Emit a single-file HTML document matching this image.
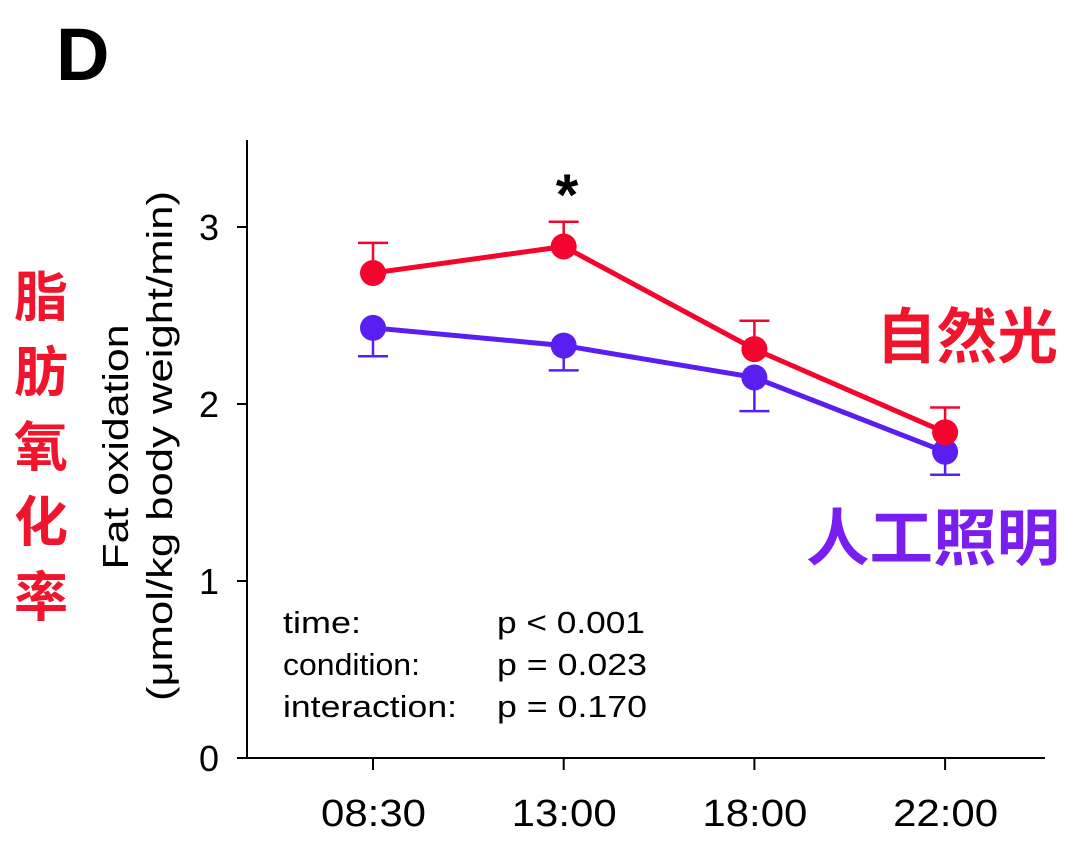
<!DOCTYPE html>
<html><head><meta charset="utf-8"><style>
body{margin:0;background:#fff;width:1080px;height:850px;overflow:hidden}
svg{display:block}
text{font-family:"Liberation Sans","Noto Sans CJK SC",sans-serif}
</style></head><body>
<svg id="chart" width="1080" height="850">
<text x="56" y="80" font-size="74" font-weight="bold" fill="#000">D</text>
<g id="axes"></g>
<g id="series"></g>
<text x="567" y="215" font-size="58" font-weight="bold" text-anchor="middle" fill="#000">*</text>
<text transform="translate(128,447) rotate(-90)" font-size="36" text-anchor="middle" textLength="245" lengthAdjust="spacingAndGlyphs" fill="#000">Fat oxidation</text>
<text transform="translate(172,446) rotate(-90)" font-size="36" text-anchor="middle" textLength="510" lengthAdjust="spacingAndGlyphs" fill="#000">(μmol/kg body weight/min)</text>
<g font-size="54" font-weight="bold" fill="#f0142d" font-family="'Noto Serif CJK SC',serif">
<text x="14" y="316">脂</text>
<text x="14" y="391">肪</text>
<text x="14" y="466">氧</text>
<text x="14" y="541">化</text>
<text x="14" y="616">率</text>
</g>
<text x="876" y="358" font-size="60" font-weight="bold" fill="#f0142d" font-family="'Noto Serif CJK SC',serif" textLength="182" lengthAdjust="spacingAndGlyphs">自然光</text>
<text x="806" y="560" font-size="62" font-weight="bold" fill="#7a1ef0" font-family="'Noto Serif CJK SC',serif" textLength="254" lengthAdjust="spacingAndGlyphs">人工照明</text>
<g font-size="31" fill="#000">
<text x="283" y="633" textLength="78" lengthAdjust="spacingAndGlyphs">time:</text><text x="497" y="633" textLength="148" lengthAdjust="spacingAndGlyphs">p &lt; 0.001</text>
<text x="283" y="675" textLength="137" lengthAdjust="spacingAndGlyphs">condition:</text><text x="497" y="675" textLength="150" lengthAdjust="spacingAndGlyphs">p = 0.023</text>
<text x="283" y="717" textLength="174" lengthAdjust="spacingAndGlyphs">interaction:</text><text x="497" y="717" textLength="150" lengthAdjust="spacingAndGlyphs">p = 0.170</text>
</g>
</svg>
<script>
const categories=["08:30","13:00","18:00","22:00"];
const naturalValues=[2.74,2.89,2.31,1.84];
const naturalErr=[0.17,0.14,0.16,0.14];
const artificialValues=[2.43,2.33,2.15,1.73];
const artificialErr=[0.16,0.14,0.19,0.13];
const yTicks=[0,1,2,3];
const NS="http://www.w3.org/2000/svg";
const x0=247,x1=1045,yBase=758;
function xs(i){return 373+i*190.7;}
function ys(v){return yBase-v*177;}
function mk(tag,attrs,parent){const e=document.createElementNS(NS,tag);for(const k in attrs)e.setAttribute(k,attrs[k]);parent.appendChild(e);return e;}
const ax=document.getElementById('axes');
let l=mk('line',{x1:x0,y1:140,x2:x0,y2:yBase+1,stroke:'#000','stroke-width':2},ax);


l=mk('line',{x1:x0-1,y1:yBase,x2:x1,y2:yBase,stroke:'#000','stroke-width':2},ax);


yTicks.forEach(t=>{
  const y=ys(t);
  let tk=mk('line',{x1:x0-10,y1:y,x2:x0,y2:y,stroke:'#000','stroke-width':2},ax);
  
  
  let tx=mk('text',{x:x0-28,y:y+13,'font-size':36,'text-anchor':'end'},ax);
  tx.textContent=t;
  
  
});
categories.forEach((c,i)=>{
  const x=xs(i);
  let tk=mk('line',{x1:x,y1:yBase,x2:x,y2:yBase+12,stroke:'#000','stroke-width':2},ax);
  
  
  let tx=mk('text',{x:x-52,y:826,'font-size':38,textLength:105,lengthAdjust:'spacingAndGlyphs'},ax);
  tx.textContent=c;
  
  
});
const sg=document.getElementById('series');
function drawSeries(vals,errs,color,dir,name){
  const g=mk('g',{},sg);
  
  
  vals.forEach((v,i)=>{
    const x=xs(i),y=ys(v),ye=ys(v+dir*errs[i]);
    mk('line',{x1:x,y1:y,x2:x,y2:ye,stroke:color,'stroke-width':2.5},g);
    const cap=mk('line',{x1:x-15,y1:ye,x2:x+15,y2:ye,stroke:color,'stroke-width':2.5},g);
    
    
  });
  const pts=vals.map((v,i)=>xs(i)+','+ys(v)).join(' ');
  const pl=mk('polyline',{points:pts,fill:'none',stroke:color,'stroke-width':5},g);
  
  
  vals.forEach((v,i)=>{
    const c=mk('circle',{cx:xs(i),cy:ys(v),r:13,fill:color},g);
    
    
  });
}
drawSeries(artificialValues,artificialErr,'#5a1ef0',-1,'artificial-series');
drawSeries(naturalValues,naturalErr,'#f5052d',1,'natural-series');
</script>
</body></html>
